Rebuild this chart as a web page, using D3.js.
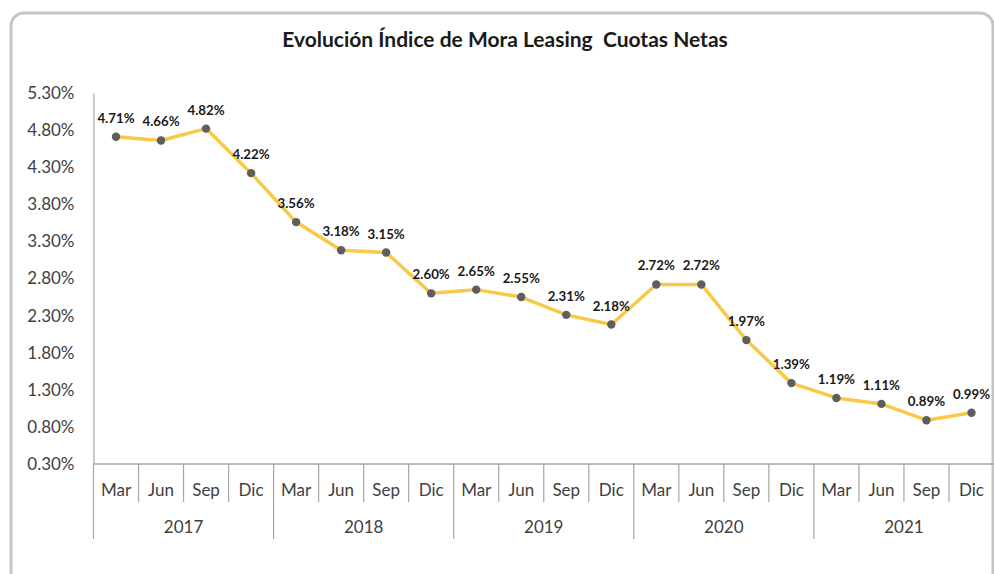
<!DOCTYPE html>
<html>
<head>
<meta charset="utf-8">
<script src="https://cdn.jsdelivr.net/npm/d3@7/dist/d3.min.js"></script>
<style>
  html, body { margin: 0; padding: 0; background: #fff; }
  svg { display: block; }
</style>
</head>
<body>
<svg id="chart" width="994" height="574"></svg>
<script>
const years = ["2017", "2018", "2019", "2020", "2021"];
const quarters = ["Mar", "Jun", "Sep", "Dic"];
const values = [4.71, 4.66, 4.82, 4.22, 3.56, 3.18, 3.15, 2.60, 2.65, 2.55, 2.31, 2.18, 2.72, 2.72, 1.97, 1.39, 1.19, 1.11, 0.89, 0.99];
const yTicks = [0.3, 0.8, 1.3, 1.8, 2.3, 2.8, 3.3, 3.8, 4.3, 4.8, 5.3];
const title = "Evolución Índice de Mora Leasing\u00A0\u00A0Cuotas Netas";

(function () {
const data = [];
years.forEach((yv, yi) => quarters.forEach((q, qi) => {
  data.push({ year: yv, q: q, key: yv + "-" + q, v: values[yi * 4 + qi] });
}));

const svg = d3.select("#chart");
const font = "Lato, 'Open Sans', sans-serif";

// outer rounded border
svg.append("rect")
  .attr("x", 11).attr("y", 13).attr("width", 982).attr("height", 575)
  .attr("rx", 13).attr("ry", 13)
  .attr("fill", "#fff").attr("stroke", "#c4c4c4").attr("stroke-width", 3);

const pLeft = 93.5, pRight = 994, pTop = 93, pBottom = 464;

const x = d3.scaleBand().domain(data.map(d => d.key)).range([pLeft, pRight]).padding(0);
const y = d3.scaleLinear().domain([0.3, 5.3]).range([pBottom, pTop]);

// title
svg.append("text")
  .attr("x", 505).attr("y", 47)
  .attr("text-anchor", "middle")
  .attr("font-family", font).attr("font-weight", "bold").attr("font-size", 21)
  .attr("fill", "#1a1a1a")
  .text(title);

// y axis
const yAxis = svg.append("g")
  .attr("transform", `translate(${pLeft},0)`)
  .call(d3.axisLeft(y).tickValues(yTicks).tickSize(0).tickPadding(19)
    .tickFormat(d => d.toFixed(2) + "%"));
yAxis.select(".domain").attr("stroke", "#a6a6a6").attr("stroke-width", 1.2);
yAxis.selectAll("text").attr("font-family", font).attr("font-size", 17).attr("fill", "#404040");

// x axis line
const axisColor = "#a6a6a6";
svg.append("line").attr("x1", pLeft).attr("x2", pRight).attr("y1", pBottom).attr("y2", pBottom)
  .attr("stroke", axisColor).attr("stroke-width", 1.5);

// month separators & labels
const xg = svg.append("g");
data.forEach((d, i) => {
  const x0 = x(d.key);
  const isYearStart = i % 4 === 0;
  xg.append("line")
    .attr("x1", x0).attr("x2", x0)
    .attr("y1", pBottom).attr("y2", isYearStart ? 539 : 502)
    .attr("stroke", axisColor).attr("stroke-width", 1.2);
  xg.append("text")
    .attr("x", x0 + x.bandwidth() / 2).attr("y", 496)
    .attr("text-anchor", "middle")
    .attr("font-family", font).attr("font-size", 17).attr("fill", "#404040")
    .text(d.q);
});
// year labels
years.forEach(yr => {
  const first = x(yr + "-Mar");
  const last = x(yr + "-Dic") + x.bandwidth();
  xg.append("text")
    .attr("x", (first + last) / 2).attr("y", 533)
    .attr("text-anchor", "middle")
    .attr("font-family", font).attr("font-size", 17).attr("fill", "#404040")
    .text(yr);
});

// line
const line = d3.line().x(d => x(d.key) + x.bandwidth() / 2).y(d => y(d.v));
svg.append("path").datum(data)
  .attr("d", line)
  .attr("fill", "none").attr("stroke", "#f7c947").attr("stroke-width", 3.5)
  .attr("stroke-linejoin", "round");

// markers
svg.selectAll("circle.pt").data(data).enter().append("circle")
  .attr("class", "pt")
  .attr("cx", d => x(d.key) + x.bandwidth() / 2)
  .attr("cy", d => y(d.v))
  .attr("r", 4.2)
  .attr("fill", "#5e5e5e");

// labels
svg.selectAll("text.lbl").data(data).enter().append("text")
  .attr("class", "lbl")
  .attr("x", d => x(d.key) + x.bandwidth() / 2)
  .attr("y", d => y(d.v) - 14)
  .attr("text-anchor", "middle")
  .attr("font-family", font).attr("font-weight", "bold").attr("font-size", 13.3)
  .attr("fill", "#1a1a1a")
  .text(d => d.v.toFixed(2) + "%");
})();
</script>
</body>
</html>
